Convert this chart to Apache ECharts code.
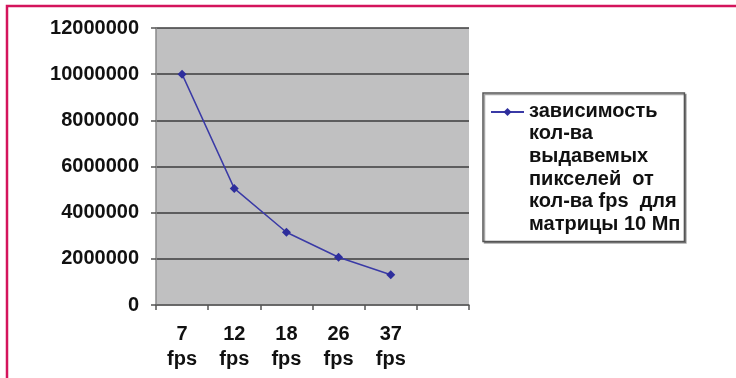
<!DOCTYPE html>
<html>
<head>
<meta charset="utf-8">
<script src="https://cdn.jsdelivr.net/npm/echarts@6/dist/echarts.min.js"></script>
<style>
html,body{margin:0;padding:0;background:#fff;}
#chart{width:736px;height:378px;}
</style>
</head>
<body>
<div id="chart"></div>
<script>
var categories = ['7\nfps', '12\nfps', '18\nfps', '26\nfps', '37\nfps', ''];
var pixelValues = [10000000, 5050000, 3150000, 2070000, 1310000, null];
var yTicks = [0, 2000000, 4000000, 6000000, 8000000, 10000000, 12000000];
var seriesName = 'зависимость\nкол-ва\nвыдавемых\nпикселей  от\nкол-ва fps  для\nматрицы 10 Мп';

var FONT = "'Liberation Sans', Arial, sans-serif";
var chart = echarts.init(document.getElementById('chart'), null, {renderer: 'canvas'});
chart.setOption({
  backgroundColor: '#ffffff',
  animation: false,
  textStyle: {fontFamily: FONT},
  grid: {
    left: 156, top: 28, right: 267, bottom: 73,
    show: true, backgroundColor: '#c0c0c1', borderWidth: 0,
    containLabel: false, outerBoundsMode: 'none'
  },
  xAxis: {
    type: 'category',
    data: categories,
    boundaryGap: true,
    axisLine: {show: true, lineStyle: {color: '#6a6a6a', width: 1.5}},
    axisTick: {show: true, interval: 0, length: 5, lineStyle: {color: '#555', width: 1.5}},
    axisLabel: {interval: 0, margin: 17, color: '#111', fontSize: 20, fontWeight: 'bold', lineHeight: 25, fontFamily: FONT},
    splitLine: {show: false}
  },
  yAxis: {
    type: 'value',
    min: yTicks[0],
    max: yTicks[yTicks.length - 1],
    interval: yTicks[1] - yTicks[0],
    axisLine: {show: true, lineStyle: {color: '#8a8a8a', width: 1.5}},
    axisTick: {show: true, inside: false, length: 5, lineStyle: {color: '#555', width: 1.5}},
    axisLabel: {
      margin: 17, color: '#111', fontSize: 20, fontWeight: 'bold', fontFamily: FONT,
      formatter: function (v) { return String(v); }
    },
    splitLine: {show: true, lineStyle: {color: '#3c3c3c', width: 1.6}}
  },
  legend: [
    {
      data: [seriesName],
      left: 483, top: 93,
      orient: 'vertical',
      padding: [7, 4, 6, 7],
      itemWidth: 33, itemHeight: 10, itemGap: 0,
      borderColor: '#555', borderWidth: 1.5,
      backgroundColor: '#fff',
      shadowColor: 'rgba(0,0,0,0.35)', shadowOffsetX: 1.5, shadowOffsetY: 1.5, shadowBlur: 0,
      selectedMode: false,
      itemStyle: {opacity: 0},
      lineStyle: {opacity: 0},
      textStyle: {color: '#111', fontSize: 20, fontWeight: 'bold', lineHeight: 22.6, fontFamily: FONT},
      z: 3
    },
    {
      data: [seriesName],
      left: 490, top: 107,
      padding: 0,
      itemWidth: 33, itemHeight: 10,
      selectedMode: false,
      formatter: function () { return ''; },
      textStyle: {fontSize: 1},
      z: 5
    }
  ],
  series: [{
    name: seriesName,
    type: 'line',
    data: pixelValues,
    symbol: 'diamond',
    symbolSize: 9,
    lineStyle: {color: '#3a3aa6', width: 1.5},
    itemStyle: {color: '#2e2e9c'},
    z: 4
  }],
  graphic: [{
    type: 'polyline',
    shape: {points: [[7, 378], [7, 6], [736, 6]]},
    style: {stroke: '#d4145c', lineWidth: 2.5, fill: null},
    silent: true
  }]
});
</script>
</body>
</html>
